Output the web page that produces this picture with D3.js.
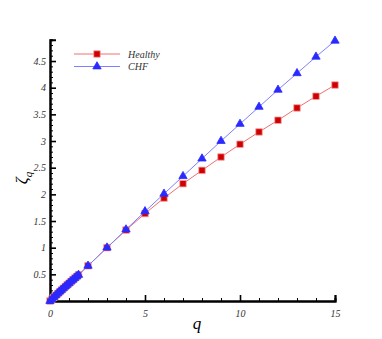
<!DOCTYPE html>
<html>
<head>
<meta charset="utf-8">
<script src="https://cdn.jsdelivr.net/npm/d3@7"></script>
<style>
  body { margin: 0; background: #fff; }
  svg text { font-family: "Liberation Serif", "DejaVu Serif", serif; font-style: italic; }
</style>
</head>
<body>
<svg id="chart" width="382" height="339"></svg>
<script>
// q values and scaling exponents
var qValues = [0, 0.1, 0.2, 0.3, 0.4, 0.5, 0.6, 0.7, 0.8, 0.9, 1, 1.1, 1.2, 1.3, 1.4, 1.5,
               2, 3, 4, 5, 6, 7, 8, 9, 10, 11, 12, 13, 14, 15];
var healthy = [0, 0.035, 0.07, 0.104, 0.138, 0.172, 0.205, 0.238, 0.27, 0.302, 0.334, 0.366, 0.398, 0.43, 0.461, 0.492,
               0.66, 1.0, 1.33, 1.64, 1.93, 2.2, 2.45, 2.7, 2.94, 3.17, 3.39, 3.62, 3.84, 4.05];
var chf = [0, 0.037, 0.073, 0.108, 0.142, 0.175, 0.208, 0.24, 0.272, 0.304, 0.336, 0.367, 0.398, 0.429, 0.459, 0.489,
           0.66, 1.0, 1.34, 1.68, 2.01, 2.34, 2.67, 3.0, 3.32, 3.64, 3.96, 4.27, 4.58, 4.88];
var seriesNames = ["Healthy", "CHF"];
var xTicks = [0, 5, 10, 15];
var yTicks = [0.5, 1, 1.5, 2, 2.5, 3, 3.5, 4, 4.5];

var svg = d3.select("#chart");
var x = d3.scaleLinear().domain([0, 15]).range([50, 335]);
var y = d3.scaleLinear().domain([0, 4.9]).range([301, 39.7]);

// eixos
var xAxis = d3.axisBottom(x).tickValues(xTicks).tickSize(-6).tickPadding(9).tickFormat(d3.format("d"));
var xMinor = d3.axisBottom(x).tickValues(d3.range(1, 15).filter(d => d % 5 !== 0)).tickSize(-3).tickFormat("");
var yAxis = d3.axisLeft(y).tickValues(yTicks).tickSize(-6).tickPadding(4).tickFormat(d => String(d));
var yMinor = d3.axisLeft(y).tickValues(d3.range(1, 49).map(d => d / 10).filter(d => Math.round(d * 10) % 5 !== 0)).tickSize(-3).tickFormat("");

function styleAxis(g) {
  g.select(".domain").attr("stroke", "#000").attr("stroke-width", 2);
  g.selectAll(".tick line").attr("stroke", "#000").attr("stroke-width", 1.3);
  g.selectAll(".tick text").attr("font-size", 10).attr("fill", "#333")
    .attr("font-family", "Liberation Serif, serif").attr("font-style", "italic");
}

svg.append("g").attr("transform", "translate(0,301)").call(xMinor).call(styleAxis);
svg.append("g").attr("transform", "translate(0,301)").call(xAxis).call(styleAxis);
svg.append("g").attr("transform", "translate(50,0)").call(yMinor).call(styleAxis);
svg.append("g").attr("transform", "translate(50,0)").call(yAxis).call(styleAxis);
svg.selectAll(".tick line").attr("stroke-width", 1);
svg.selectAll("g").filter(function () { return this.parentNode === svg.node(); })
  .each(function (d, i) { if (i % 2 === 1) d3.select(this).selectAll(".tick line").attr("stroke-width", 1.6); });

// títulos
svg.append("text").attr("x", 197).attr("y", 329).attr("font-size", 17).attr("text-anchor", "middle").text("q");
var yt = svg.append("text").attr("transform", "translate(27,178) rotate(-90)").attr("font-size", 17).attr("text-anchor", "middle");
yt.append("tspan").text("ζ");
yt.append("tspan").attr("font-size", 11).attr("dy", 5).text("q");

var series = [
  { name: seriesNames[0], values: healthy, line: "#f07070", fill: "#d00000", stroke: "#f4a0a0", shape: d3.symbolSquare, size: 42 },
  { name: seriesNames[1], values: chf, line: "#7f7fff", fill: "#2a2aff", stroke: "#2a2aff", shape: d3.symbolTriangle, size: 30 }
];

var line = d3.line().x(d => x(d[0])).y(d => y(d[1]));

series.forEach(s => {
  var pts = qValues.map((q, i) => [q, s.values[i]]);
  svg.append("path").datum(pts).attr("d", line).attr("fill", "none")
    .attr("stroke", s.line).attr("stroke-width", 1);
  svg.selectAll(null).data(pts).enter().append("path")
    .attr("d", d3.symbol().type(s.shape).size(s.size))
    .attr("transform", d => `translate(${x(d[0])},${y(d[1])})`)
    .attr("fill", s.fill).attr("stroke", s.stroke).attr("stroke-width", 0.8);
});

// legenda
var leg = svg.append("g");
series.forEach((s, i) => {
  var ly = 54 + i * 12.5;
  leg.append("line").attr("x1", 74).attr("x2", 120).attr("y1", ly).attr("y2", ly)
    .attr("stroke", s.line).attr("stroke-width", 1);
  leg.append("path").attr("d", d3.symbol().type(s.shape).size(s.size))
    .attr("transform", `translate(97,${ly})`).attr("fill", s.fill).attr("stroke", s.stroke).attr("stroke-width", 0.8);
  leg.append("text").attr("x", 128).attr("y", ly + 3.5).attr("font-size", 10).attr("fill", "#333").text(s.name);
});
</script>
</body>
</html>
